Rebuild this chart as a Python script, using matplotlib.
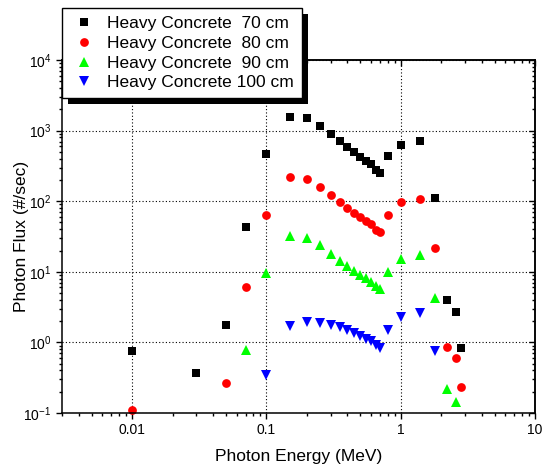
import matplotlib
matplotlib.use("Agg")
import matplotlib.pyplot as plt
from matplotlib.patches import Rectangle
from matplotlib.ticker import LogLocator, NullFormatter

plt.rcParams['font.family'] = ['Liberation Sans', 'DejaVu Sans']
plt.rcParams['mathtext.default'] = 'regular'

# ---- data ----
E70 = [0.01, 0.03, 0.05, 0.07, 0.1, 0.15, 0.2, 0.25, 0.3, 0.35, 0.4, 0.45, 0.5,
       0.55, 0.6, 0.65, 0.7, 0.8, 1.0, 1.4, 1.8, 2.2, 2.6, 2.8]
F70 = [0.75, 0.37, 1.76, 43, 463, 1580, 1490, 1177, 887, 714, 581, 493, 419,
       372, 333, 275, 252, 443, 628, 714, 111, 3.98, 2.69, 0.83]

E80 = [0.01, 0.05, 0.07, 0.1, 0.15, 0.2, 0.25, 0.3, 0.35, 0.4, 0.45, 0.5, 0.55,
       0.6, 0.65, 0.7, 0.8, 1.0, 1.4, 1.8, 2.2, 2.6, 2.8]
F80 = [0.11, 0.267, 6.0, 63, 218, 203, 158, 121, 98, 79, 68.5, 59.5, 53,
       47.8, 39.3, 36.8, 64.8, 96.8, 109, 21.6, 0.87, 0.60, 0.23]

E90 = [0.07, 0.1, 0.15, 0.2, 0.25, 0.3, 0.35, 0.4, 0.45, 0.5, 0.55, 0.6, 0.65,
       0.7, 0.8, 1.0, 1.4, 1.8, 2.2, 2.6]
F90 = [0.79, 9.5, 32, 30, 24, 17.6, 14.3, 12.2, 10.1, 9.1, 8.1, 7.1, 6.3,
       5.8, 9.8, 15.4, 17.4, 4.2, 0.22, 0.142]

E100 = [0.1, 0.15, 0.2, 0.25, 0.3, 0.35, 0.4, 0.45, 0.5, 0.55, 0.6, 0.65, 0.7,
        0.8, 1.0, 1.4, 1.8]
F100 = [0.34, 1.68, 1.97, 1.88, 1.75, 1.63, 1.50, 1.36, 1.24, 1.12, 1.03, 0.93,
        0.83, 1.50, 2.26, 2.6, 0.75]

labels = ["Heavy Concrete  70 cm", "Heavy Concrete  80 cm",
          "Heavy Concrete  90 cm", "Heavy Concrete 100 cm"]
xticks = [0.01, 0.1, 1, 10]
xticklabels = ["0.01", "0.1", "1", "10"]

W, H = 547, 470
fig = plt.figure(figsize=(W / 100, H / 100), dpi=100)
ax = fig.add_axes([62 / W, 1 - 413 / H, (535 - 62) / W, (413 - 60) / H])

h1, = ax.plot(E70, F70, 's', color='black', ms=5.6, mew=0, clip_on=False)
h2, = ax.plot(E80, F80, 'o', color='#ff0000', ms=6.3, mew=0, clip_on=False)
h3, = ax.plot(E90, F90, '^', color='#00ff00', ms=7.0, mew=0, clip_on=False)
h4, = ax.plot(E100, F100, 'v', color='#0000ff', ms=7.0, mew=0, clip_on=False)

ax.set_xscale('log')
ax.set_yscale('log')
ax.set_xlim(0.003, 10)
ax.set_ylim(0.1, 1e4)
ax.set_xticks(xticks)
ax.set_xticklabels(xticklabels)
ax.yaxis.set_major_locator(LogLocator(base=10, numticks=10))
ax.yaxis.set_minor_locator(LogLocator(base=10, subs=range(2, 10), numticks=20))
ax.xaxis.set_minor_locator(LogLocator(base=10, subs=range(2, 10), numticks=20))
ax.xaxis.set_minor_formatter(NullFormatter())
ax.yaxis.set_minor_formatter(NullFormatter())

ax.tick_params(which='both', direction='out', top=False, right=False,
               labelsize=10, width=1, color='black', pad=3)
ax.tick_params(which='major', length=4.5)
ax.tick_params(which='minor', length=2.5)

for s in ax.spines.values():
    s.set_linewidth(1.1)

ax.grid(True, which='major', linestyle=(0, (1, 2)), color='black', linewidth=0.8)

# top / right inward ticks
secx = ax.secondary_xaxis('top')
secx.tick_params(which='both', direction='in', labeltop=False, width=1)
secx.tick_params(which='major', length=4.5)
secx.tick_params(which='minor', length=2.5)
secx.set_xticks(xticks)
secx.xaxis.set_minor_locator(LogLocator(base=10, subs=range(2, 10), numticks=20))
secx.xaxis.set_minor_formatter(NullFormatter())
secx.spines['top'].set_linewidth(1.1)
secy = ax.secondary_yaxis('right')
secy.tick_params(which='both', direction='in', labelright=False, width=1)
secy.tick_params(which='major', length=4.5)
secy.tick_params(which='minor', length=2.5)
secy.yaxis.set_major_locator(LogLocator(base=10, numticks=10))
secy.yaxis.set_minor_locator(LogLocator(base=10, subs=range(2, 10), numticks=20))
secy.yaxis.set_minor_formatter(NullFormatter())
secy.spines['right'].set_linewidth(1.1)

ax.set_xlabel("Photon Energy (MeV)", fontsize=12.5, labelpad=8)
ax.set_ylabel("Photon Flux (#/sec)", fontsize=12.5)
ax.yaxis.set_label_coords((29 - 62) / 473, 0.5)

leg = fig.legend([h1, h2, h3, h4], labels, loc='upper left',
                 bbox_to_anchor=(62 / W, 1 - 8 / H),
                 bbox_transform=fig.transFigure, borderaxespad=0,
                 fancybox=False, framealpha=1, edgecolor='black',
                 fontsize=12.5, numpoints=1, handlelength=1.64,
                 handletextpad=0.5, labelspacing=0.27, borderpad=0.45)
leg.get_frame().set_linewidth(1.0)
leg.set_zorder(10)

fig.canvas.draw()
bb = leg.get_window_extent()
off = 6
shadow = Rectangle((bb.x0 + off, bb.y0 - off), bb.width, bb.height,
                   transform=None, facecolor='black', edgecolor='none', zorder=9)
fig.add_artist(shadow)

fig.savefig("out.png", dpi=100)
